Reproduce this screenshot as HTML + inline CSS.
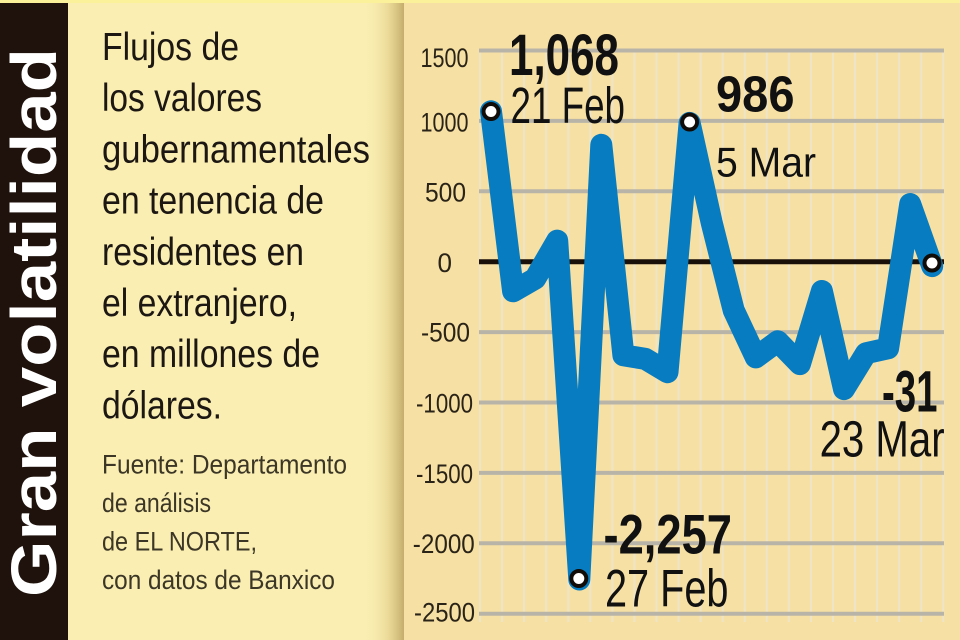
<!DOCTYPE html>
<html>
<head>
<meta charset="utf-8">
<style>
html,body{margin:0;padding:0;background:#f7e0a3;}
svg{display:block;}
text{font-family:"Liberation Sans", sans-serif;}
</style>
</head>
<body>
<svg width="960" height="640" viewBox="0 0 960 640" xmlns="http://www.w3.org/2000/svg">
  <defs>
    <linearGradient id="shade" x1="0" y1="0" x2="1" y2="0">
      <stop offset="0" stop-color="#faeeb2" stop-opacity="0"/>
      <stop offset="0.6" stop-color="#e6d490" stop-opacity="0.7"/>
      <stop offset="1" stop-color="#c4ad6c"/>
    </linearGradient>
  </defs>

  <!-- backgrounds -->
  <rect x="0" y="0" width="960" height="640" fill="#f7e0a3"/>
  <rect x="0" y="0" width="404" height="640" fill="#faeeb2"/>
  <rect x="362" y="0" width="42" height="640" fill="url(#shade)"/>
  <rect x="0" y="0" width="960" height="3" fill="#fbf19a"/>
  <rect x="0" y="3" width="68" height="637" fill="#1f120c"/>

  <!-- vertical title -->
  <text transform="translate(56,597) rotate(-90)" x="0" y="0" font-size="64" font-weight="bold" fill="#ffffff" textLength="549" lengthAdjust="spacingAndGlyphs">Gran volatilidad</text>

  <!-- description -->
  <g fill="#1c1712" font-size="39">
    <text x="102" y="60" textLength="137" lengthAdjust="spacingAndGlyphs">Flujos de</text>
    <text x="102" y="111.2" textLength="160" lengthAdjust="spacingAndGlyphs">los valores</text>
    <text x="102" y="162.4" textLength="268" lengthAdjust="spacingAndGlyphs">gubernamentales</text>
    <text x="102" y="213.6" textLength="222" lengthAdjust="spacingAndGlyphs">en tenencia de</text>
    <text x="102" y="264.8" textLength="202" lengthAdjust="spacingAndGlyphs">residentes en</text>
    <text x="102" y="316" textLength="195" lengthAdjust="spacingAndGlyphs">el extranjero,</text>
    <text x="102" y="367.2" textLength="218" lengthAdjust="spacingAndGlyphs">en millones de</text>
    <text x="102" y="418.4" textLength="120" lengthAdjust="spacingAndGlyphs">dólares.</text>
  </g>
  <g fill="#3b3626" font-size="27">
    <text x="102" y="473.5" textLength="245" lengthAdjust="spacingAndGlyphs">Fuente: Departamento</text>
    <text x="102" y="512" textLength="109" lengthAdjust="spacingAndGlyphs">de análisis</text>
    <text x="102" y="550.5" textLength="155" lengthAdjust="spacingAndGlyphs">de EL NORTE,</text>
    <text x="102" y="589" textLength="233" lengthAdjust="spacingAndGlyphs">con datos de Banxico</text>
  </g>

  <!-- vertical grid lines -->
  <g stroke="#eee5c8" stroke-width="2">
    <line x1="480" y1="50" x2="480" y2="622"/>
    <line x1="502.06" y1="50" x2="502.06" y2="622"/>
    <line x1="524.12" y1="50" x2="524.12" y2="622"/>
    <line x1="546.18" y1="50" x2="546.18" y2="622"/>
    <line x1="568.24" y1="50" x2="568.24" y2="622"/>
    <line x1="590.3" y1="50" x2="590.3" y2="622"/>
    <line x1="612.36" y1="50" x2="612.36" y2="622"/>
    <line x1="634.42" y1="50" x2="634.42" y2="622"/>
    <line x1="656.48" y1="50" x2="656.48" y2="622"/>
    <line x1="678.54" y1="50" x2="678.54" y2="622"/>
    <line x1="700.6" y1="50" x2="700.6" y2="622"/>
    <line x1="722.66" y1="50" x2="722.66" y2="622"/>
    <line x1="744.72" y1="50" x2="744.72" y2="622"/>
    <line x1="766.78" y1="50" x2="766.78" y2="622"/>
    <line x1="788.84" y1="50" x2="788.84" y2="622"/>
    <line x1="810.9" y1="50" x2="810.9" y2="622"/>
    <line x1="832.96" y1="50" x2="832.96" y2="622"/>
    <line x1="855.02" y1="50" x2="855.02" y2="622"/>
    <line x1="877.08" y1="50" x2="877.08" y2="622"/>
    <line x1="899.14" y1="50" x2="899.14" y2="622"/>
    <line x1="921.2" y1="50" x2="921.2" y2="622"/>
    <line x1="943.26" y1="50" x2="943.26" y2="622"/>
  </g>

  <!-- horizontal grid lines -->
  <g stroke="#b9b4a8" stroke-width="4">
    <line x1="479" y1="50.5" x2="944" y2="50.5"/>
    <line x1="479" y1="120.9" x2="944" y2="120.9"/>
    <line x1="479" y1="191.3" x2="944" y2="191.3"/>
    <line x1="479" y1="332.1" x2="944" y2="332.1"/>
    <line x1="479" y1="402.5" x2="944" y2="402.5"/>
    <line x1="479" y1="472.9" x2="944" y2="472.9"/>
    <line x1="479" y1="543.3" x2="944" y2="543.3"/>
    <line x1="479" y1="613.7" x2="944" y2="613.7"/>
  </g>
  <line x1="479" y1="261.7" x2="944" y2="261.7" stroke="#1a100a" stroke-width="5"/>

  <!-- y-axis labels -->
  <g fill="#2a2418" font-size="27" text-anchor="middle">
    <text x="444.5" y="67" textLength="48" lengthAdjust="spacingAndGlyphs">1500</text>
    <text x="444.5" y="131.7" textLength="48" lengthAdjust="spacingAndGlyphs">1000</text>
    <text x="445.5" y="201.7" textLength="41" lengthAdjust="spacingAndGlyphs">500</text>
    <text x="444.8" y="272" textLength="14.5" lengthAdjust="spacingAndGlyphs">0</text>
    <text x="445.5" y="341.5" textLength="49" lengthAdjust="spacingAndGlyphs">-500</text>
    <text x="444.5" y="412.5" textLength="57" lengthAdjust="spacingAndGlyphs">-1000</text>
    <text x="444.5" y="483" textLength="57" lengthAdjust="spacingAndGlyphs">-1500</text>
    <text x="443.8" y="553" textLength="62" lengthAdjust="spacingAndGlyphs">-2000</text>
    <text x="444.5" y="621.7" textLength="61" lengthAdjust="spacingAndGlyphs">-2500</text>
  </g>

  <!-- data line -->
  <polyline fill="none" stroke="#077cc0" stroke-width="22" stroke-linejoin="round" stroke-linecap="round"
    points="491.0,111.3 513.1,291.3 535.2,278.6 557.2,240.6 579.3,579.5 601.3,144.8 623.4,355.3 645.4,358.9 667.5,372.2 689.6,122.9 711.6,222.3 733.7,310.3 755.8,357.4 777.8,341.3 799.9,364.1 821.9,291.0 844.0,389.1 866.1,353.2 888.1,348.3 910.2,204.0 932.2,266.1"/>

  <!-- markers -->
  <g fill="#ffffff" stroke="#120c08" stroke-width="4">
    <circle cx="491" cy="111.5" r="7.5"/>
    <circle cx="578.8" cy="578.5" r="7.5"/>
    <circle cx="689.6" cy="122" r="7.5"/>
    <circle cx="932" cy="263" r="7.5"/>
  </g>

  <!-- annotations -->
  <g fill="#111111">
    <text x="509" y="75" font-size="58" font-weight="bold" textLength="110" lengthAdjust="spacingAndGlyphs">1,068</text>
    <text x="510.5" y="123" font-size="51" textLength="114.5" lengthAdjust="spacingAndGlyphs">21 Feb</text>
    <text x="716" y="111.5" font-size="51" font-weight="bold" textLength="78.5" lengthAdjust="spacingAndGlyphs">986</text>
    <text x="716" y="176.7" font-size="42" textLength="100" lengthAdjust="spacingAndGlyphs">5 Mar</text>
    <text x="603.5" y="553.3" font-size="56" font-weight="bold" textLength="128.5" lengthAdjust="spacingAndGlyphs">-2,257</text>
    <text x="605" y="606.7" font-size="53" textLength="123.5" lengthAdjust="spacingAndGlyphs">27 Feb</text>
    <text x="882" y="411.7" font-size="58" font-weight="bold" textLength="55.5" lengthAdjust="spacingAndGlyphs">-31</text>
    <text x="819.6" y="456.7" font-size="51" textLength="125" lengthAdjust="spacingAndGlyphs">23 Mar</text>
  </g>
</svg>
</body>
</html>
